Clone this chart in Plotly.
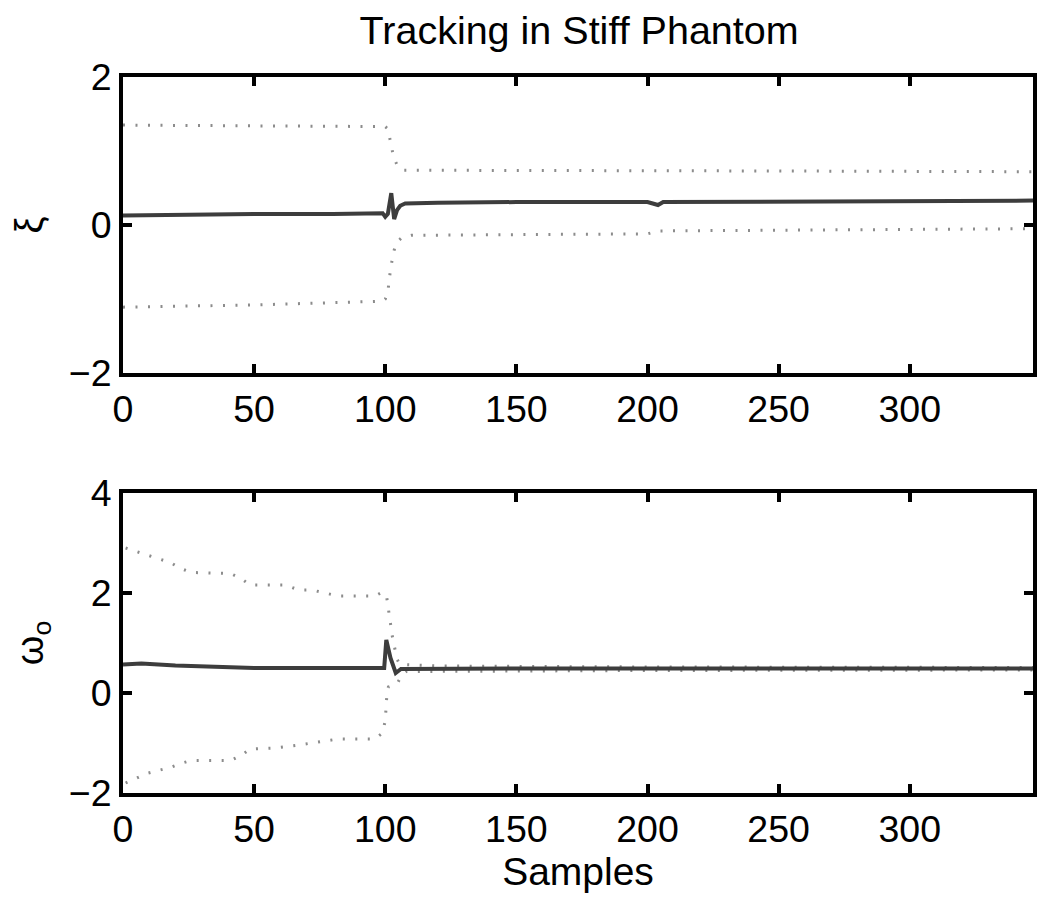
import plotly.graph_objects as go
from plotly.subplots import make_subplots

# ---- Top panel (xi) ----
xi_x = [0, 20, 50, 80, 99, 100, 101, 102.3, 103.4, 104.5, 105.7, 107.6, 120, 150, 200, 202, 204, 206, 250, 300, 347]
xi_y = [0.13, 0.14, 0.15, 0.15, 0.16, 0.11, 0.15, 0.43, 0.08, 0.2, 0.26, 0.29, 0.30, 0.31, 0.31, 0.29, 0.27, 0.31, 0.32, 0.33, 0.33]

xi_up_x = [0, 50, 100, 101, 102, 103, 104, 105, 107, 150, 200, 250, 347]
xi_up_y = [1.35, 1.34, 1.33, 1.3, 1.1, 0.95, 0.85, 0.78, 0.74, 0.74, 0.74, 0.73, 0.72]

xi_lo_x = [0, 50, 99, 100, 101, 102, 103, 104, 106, 110, 150, 200, 204, 250, 300, 347]
xi_lo_y = [-1.11, -1.08, -1.03, -1.0, -0.9, -0.6, -0.4, -0.25, -0.18, -0.14, -0.13, -0.12, -0.08, -0.07, -0.06, -0.05]

# ---- Bottom panel (omega_o) ----
om_x = [0, 7, 20, 40, 50, 70, 99, 99.6, 100.4, 102, 104, 106, 150, 250, 347]
om_y = [0.57, 0.59, 0.55, 0.52, 0.5, 0.5, 0.51, 0.5, 1.06, 0.7, 0.4, 0.48, 0.49, 0.49, 0.49]

om_up_x = [1, 4.6, 9, 13.4, 18, 22, 26, 41, 45, 48.5, 62, 67, 72, 77, 82, 96, 99, 100.6, 101.2, 102, 102.6, 103.5, 104.5, 105.7, 120, 200, 347]
om_up_y = [2.9, 2.84, 2.76, 2.69, 2.61, 2.49, 2.41, 2.39, 2.29, 2.16, 2.16, 2.06, 2.06, 2.0, 1.94, 1.94, 2.02, 1.9, 1.63, 1.39, 1.16, 0.9, 0.67, 0.57, 0.54, 0.52, 0.51]

om_lo_x = [1, 4.6, 9, 13.4, 18, 22, 26, 41, 45, 48.5, 58, 67, 77, 82, 96, 99, 100, 100.3, 100.6, 101.2, 104.5, 106.4, 108, 200, 347]
om_lo_y = [-1.8, -1.71, -1.61, -1.55, -1.49, -1.41, -1.35, -1.35, -1.25, -1.12, -1.1, -1.04, -0.96, -0.92, -0.92, -0.8, -0.55, -0.3, -0.05, 0.12, 0.18, 0.37, 0.43, 0.45, 0.46]

x_ticks = [0, 50, 100, 150, 200, 250, 300]
xi_ticks = [-2, 0, 2]
om_ticks = [-2, 0, 2, 4]

TITLE = "Tracking in Stiff Phantom"
XLABEL = "Samples"

SOLID = "#3d3d3d"
DOT = "#8c8c8c"
FONT = "Arial, Liberation Sans, sans-serif"

fig = make_subplots(rows=2, cols=1)

def dotted(x, y, row):
    fig.add_trace(go.Scatter(x=x, y=y, mode="lines",
                             line=dict(color=DOT, width=3, dash="2px,10.5px"),
                             showlegend=False, hoverinfo="skip"), row=row, col=1)

dotted(xi_up_x, xi_up_y, 1)
dotted(xi_lo_x, xi_lo_y, 1)
fig.add_trace(go.Scatter(x=xi_x, y=xi_y, mode="lines",
                         line=dict(color=SOLID, width=4), showlegend=False), row=1, col=1)
dotted(om_up_x, om_up_y, 2)
dotted(om_lo_x, om_lo_y, 2)
fig.add_trace(go.Scatter(x=om_x, y=om_y, mode="lines",
                         line=dict(color=SOLID, width=4), showlegend=False), row=2, col=1)

axis_common = dict(showline=True, linewidth=4, linecolor="black", mirror="ticks",
                   ticks="inside", ticklen=9, tickwidth=3.5, tickcolor="black",
                   showgrid=False, zeroline=False,
                   tickfont=dict(family=FONT, size=37.5, color="black"))

fig.update_xaxes(range=[0, 347], tickvals=x_ticks, **axis_common)
fig.update_yaxes(**axis_common)
fig.update_yaxes(range=[-2, 2], tickvals=xi_ticks, row=1, col=1,
                 title=dict(text="ξ", font=dict(family=FONT, size=38, color="black"), standoff=22))
fig.update_yaxes(range=[-2, 4], tickvals=om_ticks, row=2, col=1,
                 title=dict(text="ω<sub>o</sub>", font=dict(family=FONT, size=38, color="black"), standoff=14))
fig.update_xaxes(row=2, col=1,
                 title=dict(text=XLABEL, font=dict(family=FONT, size=39, color="black"), standoff=8))

fig.update_layout(
    width=1050, height=897,
    margin=dict(l=111, r=25, t=69, b=112),
    plot_bgcolor="white", paper_bgcolor="white",
    title=dict(text=TITLE, x=(118 + 1033) / 2 / 1058 + 0.0, xanchor="center",
               y=1 - 22 / 897, yanchor="middle",
               font=dict(family=FONT, size=39.5, color="black")),
    xaxis=dict(domain=[0, 1]),
    yaxis=dict(domain=[0.5866, 1.0]),
    yaxis2=dict(domain=[0.0, 0.419]),
)

fig.write_html("out.html")
